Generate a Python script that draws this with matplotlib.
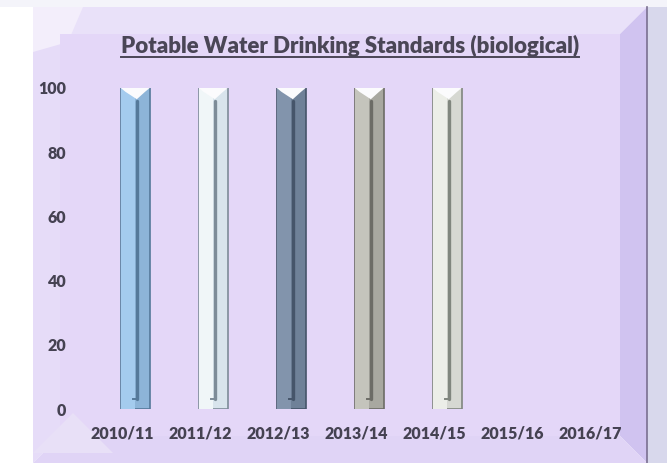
import matplotlib
matplotlib.use("Agg")
import matplotlib.pyplot as plt
from matplotlib.patches import Polygon
from matplotlib.lines import Line2D
import numpy as np

# data
years = ["2010/11", "2011/12", "2012/13", "2013/14", "2014/15", "2015/16", "2016/17"]
values = [100, 100, 100, 100, 100, 0, 0]
face_left = ["#a4cbee", "#f0f6f8", "#8294ac", "#c4c4bc", "#eceee8"]
face_right = ["#8db4d8", "#d8e4ec", "#6f8198", "#a8a8a0", "#d6d8d2"]
edge_cols = ["#55799a", "#7d8c98", "#46556a", "#6c6c66", "#80867e"]
title = "Potable Water Drinking Standards (biological)"

W, H = 667, 463
fig = plt.figure(figsize=(W / 100, H / 100), dpi=100)
fig.patch.set_facecolor("white")


def fp(x, y):
    # pixel (from top-left) -> figure fraction
    return (x / W, 1 - y / H)


def poly(pts, color, z=0):
    fig.add_artist(Polygon([fp(*p) for p in pts], closed=True, transform=fig.transFigure,
                           facecolor=color, edgecolor="none", zorder=z))


# slide background + bevelled panel
poly([(647, 0), (667, 0), (667, 463), (647, 463)], "#d8d8ec")
poly([(0, 0), (667, 0), (667, 7), (0, 7)], "#f4f4fa")
L, T, R, B, bw = 33, 7, 647, 463, 27
poly([(L, T), (R, T), (R - bw, T + bw), (L + bw, T + bw)], "#e9e1f9")
poly([(L, T), (L + bw, T + bw), (L + bw, B - bw), (L, B)], "#e6dcf8")
poly([(R, T), (R, B), (R - bw, B - bw), (R - bw, T + bw)], "#d0c3f0")
poly([(L, B), (L + bw, B - bw), (R - bw, B - bw), (R, B)], "#e0d4f6")
poly([(L, T), (L + 50, T), (L + bw + 8, T + bw + 8), (L, T + 45)], "#f3eefb")
poly([(L + bw, T + bw), (R - bw, T + bw), (R - bw, B - bw), (L + bw, B - bw)], "#e4d7f8")
poly([(L, B - 10), (L + 40, B - 50), (L + 80, B - 10)], "#e8e0f7")
fig.add_artist(Line2D([R / W, R / W], [0, 1 - T / H], transform=fig.transFigure,
                      color="#7a7090", lw=1.2))

ax = fig.add_axes([83 / W, (H - 409) / H, 546 / W, 321 / H])
ax.patch.set_alpha(0)
for s in ax.spines.values():
    s.set_visible(False)

x = np.arange(len(years))
shift = 0.17
bw_ = 0.37
n = len(face_left)
xb = x[:n] + shift
v = np.array(values[:n])

ax.bar(xb, v, width=bw_, color=face_right, edgecolor=edge_cols, linewidth=1.2, zorder=2)
ax.bar(xb - bw_ / 4, v, width=bw_ / 2, color=face_left, edgecolor="none", zorder=3)
for i in range(n):
    # groove
    ax.plot([xb[i] + 0.02, xb[i] + 0.02], [v[i] * 0.03, v[i] * 0.96],
            color=edge_cols[i], lw=2.4, zorder=4, solid_capstyle="round")
    ax.plot([xb[i] + 0.02, xb[i] - 0.03], [v[i] * 0.03, v[i] * 0.03],
            color=edge_cols[i], lw=1.4, zorder=4)
    # top cap highlight
    top = v[i]
    cap = Polygon([(xb[i] - bw_ / 2, top), (xb[i] + bw_ / 2, top),
                   (xb[i] + bw_ / 2 - 0.06, top - 1.2), (xb[i] + 0.02, top - 3.5),
                   (xb[i] - bw_ / 2 + 0.06, top - 1.2)],
                  closed=True, facecolor="#fbfbfd", edgecolor="none", zorder=5)
    ax.add_patch(cap)

ax.set_xlim(-0.5, len(years) - 0.5)
ax.set_ylim(0, 100)
ax.set_yticks([0, 20, 40, 60, 80, 100])
ax.set_xticks(x)
ax.set_xticklabels(years)
ax.tick_params(length=0, colors="#454252")
ax.tick_params(axis="y", pad=12)
ax.tick_params(axis="x", pad=12)
for lab in ax.get_xticklabels() + ax.get_yticklabels():
    lab.set_fontfamily(["Lato", "DejaVu Sans"])
    lab.set_fontweight("heavy")
    lab.set_fontsize(11.5)
    lab.set_color("#454252")

t = fig.text(350 / W, 1 - 46 / H, title, ha="center", va="center",
             fontsize=16, fontweight="heavy", family=["Lato", "DejaVu Sans"],
             color="#4a4656")
fig.canvas.draw()
bb = t.get_window_extent().transformed(fig.transFigure.inverted())
fig.add_artist(Line2D([bb.x0, bb.x1], [1 - 57 / H, 1 - 57 / H], transform=fig.transFigure,
                      color="#4a4656", lw=1.4))

fig.savefig("out.png", dpi=100)
